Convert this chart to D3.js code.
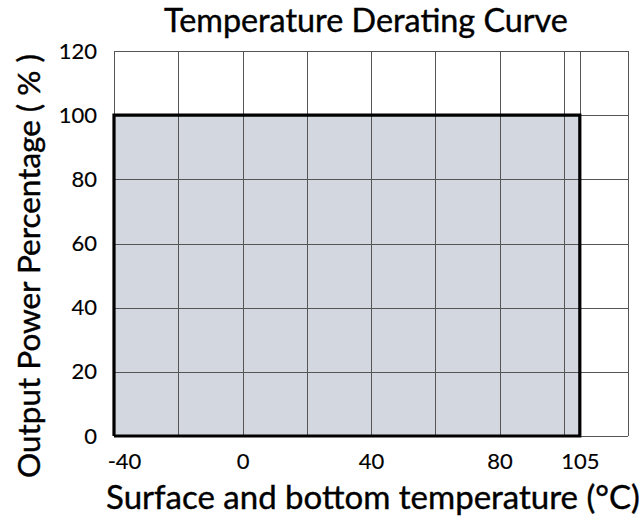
<!DOCTYPE html>
<html>
<head>
<meta charset="utf-8">
<script src="https://cdn.jsdelivr.net/npm/d3@7"></script>
<style>
  html, body { margin: 0; padding: 0; background: #fff; }
  svg { display: block; }
  text { font-family: "Lato", "Open Sans", sans-serif; fill: #000; stroke: #000; stroke-width: 0.4px; }
  .tick text { stroke-width: 0.15px; }
</style>
</head>
<body>
<svg id="chart"></svg>
<script>
// derating curve: temperature (°C) vs output power (%)
const temps = [-40, -40, 105, 105];
const power = [0, 100, 100, 0];

const xGridValues = [-40, -20, 0, 20, 40, 60, 80, 100, 105, 120];
const xTickLabels = [-40, 0, 40, 80, 105];
const yTickLabels = [0, 20, 40, 60, 80, 100, 120];

const title = "Temperature Derating Curve";
const xTitle = "Surface and bottom temperature (°C)";
const yTitle = "Output Power Percentage ( % )";

const width = 644;
const height = 522;
const margin = { top: 51, right: 16, bottom: 86, left: 114 };

const svg = d3.select("#chart")
  .attr("width", width)
  .attr("height", height);

const x = d3.scaleLinear()
  .domain([-40, 120])
  .range([margin.left, width - margin.right]);

const y = d3.scaleLinear()
  .domain([0, 120])
  .range([height - margin.bottom, margin.top]);

const points = temps.map((t, i) => [t, power[i]]);

// shaded area under the curve
svg.append("path")
  .datum(points)
  .attr("fill", "#d3d7df")
  .attr("d", d3.area().x(d => x(d[0])).y0(y(0)).y1(d => y(d[1])));

// grid
const grid = svg.append("g").attr("stroke", "#555").attr("stroke-width", 1);

grid.selectAll("line.v")
  .data(xGridValues)
  .enter()
  .append("line")
  .attr("class", "v")
  .attr("x1", d => Math.round(x(d)) + 0.5)
  .attr("x2", d => Math.round(x(d)) + 0.5)
  .attr("y1", y(120))
  .attr("y2", y(0));

grid.selectAll("line.h")
  .data(yTickLabels)
  .enter()
  .append("line")
  .attr("class", "h")
  .attr("x1", x(-40))
  .attr("x2", x(120))
  .attr("y1", d => Math.round(y(d)) + 0.5)
  .attr("y2", d => Math.round(y(d)) + 0.5);

// thick curve outline incl. base line
svg.append("path")
  .datum(points.concat([points[0]]))
  .attr("fill", "none")
  .attr("stroke", "#000")
  .attr("stroke-width", 3.2)
  .attr("stroke-linejoin", "miter")
  .attr("d", d3.line().x(d => x(d[0])).y(d => y(d[1])));

// axes (labels only, grid drawn above)
const xAxis = d3.axisBottom(x)
  .tickValues(xTickLabels)
  .tickSize(0)
  .tickPadding(17)
  .tickFormat(d => d);

svg.append("g")
  .attr("transform", `translate(0,${y(0)})`)
  .call(xAxis)
  .call(g => g.select(".domain").remove())
  .call(g => g.selectAll("text")
    .attr("font-family", "Lato, sans-serif")
    .attr("font-size", 22)
    .attr("dx", d => d < 0 ? 10 : 0));

const yAxis = d3.axisLeft(y)
  .tickValues(yTickLabels)
  .tickSize(0)
  .tickPadding(17);

svg.append("g")
  .attr("transform", `translate(${x(-40)},0)`)
  .call(yAxis)
  .call(g => g.select(".domain").remove())
  .call(g => g.selectAll("text")
    .attr("font-family", "Lato, sans-serif")
    .attr("font-size", 22));

// fit a text to a target width by adjusting font size
function fitText(sel, target) {
  sel.attr("font-size", 100);
  const w = sel.node().getComputedTextLength();
  sel.attr("font-size", 100 * target / w);
}

const titleText = svg.append("text")
  .attr("x", 366)
  .attr("y", 32)
  .attr("text-anchor", "middle")
  .text(title);
fitText(titleText, 404);

const xTitleText = svg.append("text")
  .attr("x", 373)
  .attr("y", 509)
  .attr("text-anchor", "middle")
  .text(xTitle);
fitText(xTitleText, 534);

const yTitleText = svg.append("text")
  .attr("transform", "translate(40,266) rotate(-90)")
  .attr("text-anchor", "middle")
  .text(yTitle);
fitText(yTitleText, 424);
</script>
</body>
</html>
